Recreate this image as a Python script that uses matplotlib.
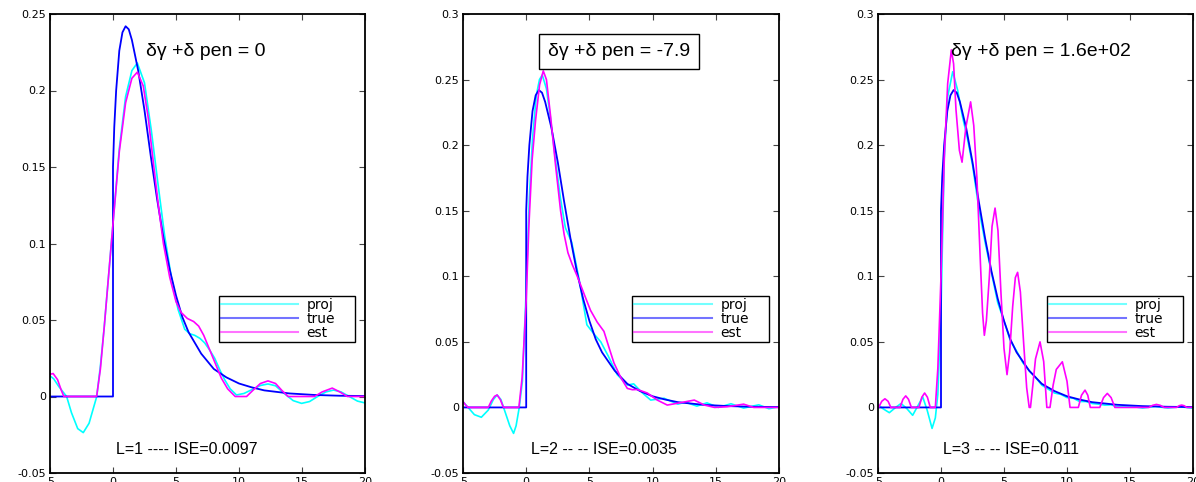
import matplotlib
matplotlib.use('Agg')
import matplotlib.pyplot as plt

# axis ticks (MATLAB style labels)
xtick_vals = [-5, 0, 5, 10, 15, 20]
xtick_labels = ['-5', '0', '5', '10', '15', '20']
ytick_vals_1 = [-0.05, 0, 0.05, 0.1, 0.15, 0.2, 0.25]
ytick_labels_1 = ['-0.05', '0', '0.05', '0.1', '0.15', '0.2', '0.25']
ytick_vals_23 = [-0.05, 0, 0.05, 0.1, 0.15, 0.2, 0.25, 0.3]
ytick_labels_23 = ['-0.05', '0', '0.05', '0.1', '0.15', '0.2', '0.25', '0.3']

# true density, same in every panel
true_x = [-5, 0, 0, 0.1, 0.25, 0.5, 0.75, 1, 1.25, 1.5, 2, 2.5, 3, 3.5, 4, 4.5, 5, 5.5,
          6, 7, 8, 9, 10, 11, 12, 14, 16, 18, 20]
true_y = [0, 0, 0.15, 0.176, 0.2, 0.226, 0.238, 0.242, 0.24, 0.233, 0.213, 0.187, 0.157,
          0.129, 0.104, 0.083, 0.066, 0.052, 0.042, 0.028, 0.018, 0.0125, 0.0085, 0.006,
          0.004, 0.002, 0.001, 0.0005, 0.0003]

# panel 1, L=1
proj1_x = [-5, -4.7, -4.3, -3.68, -3.3, -2.8, -2.36, -1.9, -1.29, -1.0, -0.7, 0, 0.5, 1.0,
           1.5, 1.93, 2.5, 3.04, 3.57, 4.1, 4.63, 5.16, 5.69, 6.1, 6.48, 6.9, 7.28, 7.7,
           8.07, 8.5, 8.86, 9.3, 9.8, 10.4, 11.05, 11.7, 12.3, 12.9, 13.6, 14.3, 14.97,
           15.6, 16.2, 16.9, 17.5, 18.1, 18.75, 19.4, 20]
proj1_y = [0.0135, 0.0115, 0.0065, 0, -0.0105, -0.021, -0.0236, -0.0175, 0, 0.02, 0.045,
           0.113, 0.162, 0.196, 0.213, 0.218, 0.205, 0.174, 0.139, 0.105, 0.078, 0.057,
           0.044, 0.041, 0.040, 0.038, 0.035, 0.030, 0.025, 0.017, 0.011, 0.005, 0.001,
           0.002, 0.0046, 0.0072, 0.0082, 0.007, 0.0019, -0.0027, -0.0045, -0.0033,
           -0.0002, 0.003, 0.0042, 0.003, 0, -0.003, -0.0042]
est1_x = [-5, -4.75, -4.4, -4.1, -3.9, -1.3, -1.0, -0.7, 0, 0.5, 1.0, 1.5, 1.93, 2.4,
          2.8, 3.2, 3.6, 4.0, 4.5, 5.0, 5.4, 5.9, 6.4, 6.8, 7.2, 7.6, 8.1, 8.6, 9.1, 9.7,
          10.6, 11.1, 11.7, 12.3, 12.9, 13.4, 13.9, 16.0, 16.6, 17.4, 18.0, 18.6, 20]
est1_y = [0.0145, 0.015, 0.011, 0.004, 0, 0, 0.018, 0.045, 0.113, 0.16, 0.192, 0.208,
          0.212, 0.203, 0.182, 0.153, 0.125, 0.1, 0.078, 0.062, 0.055, 0.051, 0.049,
          0.046, 0.04, 0.032, 0.022, 0.012, 0.005, 0, 0, 0.004, 0.0085, 0.0102, 0.0085,
          0.004, 0, 0, 0.003, 0.0055, 0.003, 0, 0]

# panel 2, L=2
proj2_x = [-5, -4.6, -4.1, -3.55, -3.0, -2.6, -2.3, -2.0, -1.65, -1.3, -1.0, -0.8, -0.55,
           -0.3, 0, 0.25, 0.5, 0.8, 1.05, 1.27, 1.6, 1.93, 2.3, 2.7, 3.1, 3.6, 4.2, 4.8,
           5.36, 5.9, 6.5, 7.2, 8.0, 8.5, 9.2, 9.85, 10.9, 12.0, 12.6, 13.5, 14.3, 15.2,
           16.2, 17.2, 18.4, 19.2, 20]
proj2_y = [0.0044, 0.0, -0.0055, -0.0075, -0.002, 0.006, 0.0095, 0.006, -0.004, -0.014,
           -0.0198, -0.014, 0, 0.02, 0.09, 0.16, 0.205, 0.238, 0.25, 0.2535, 0.243, 0.22,
           0.19, 0.16, 0.137, 0.126, 0.097, 0.063, 0.056, 0.050, 0.039, 0.025, 0.017,
           0.018, 0.011, 0.0056, 0.007, 0.0025, 0.004, 0.001, 0.0035, 0.0, 0.0028,
           -0.0005, 0.002, -0.001, 0.0005]
est2_x = [-5, -4.8, -4.6, -3.0, -2.75, -2.5, -2.3, -2.05, -1.8, -0.58, -0.32, 0, 0.21,
          0.47, 0.74, 1.06, 1.35, 1.6, 1.93, 2.32, 2.72, 3.0, 3.3, 3.64, 4.04, 4.56, 5.09,
          5.62, 6.15, 6.54, 6.94, 7.47, 8.0, 8.4, 8.79, 9.58, 10.37, 11.16, 12.2, 13.3,
          14.1, 14.9, 15.9, 17.2, 18.0, 20]
est2_y = [0.0044, 0.002, 0, 0, 0.005, 0.0085, 0.0095, 0.006, 0, 0, 0.023, 0.082, 0.138,
          0.189, 0.219, 0.246, 0.2566, 0.25, 0.222, 0.185, 0.15, 0.132, 0.118, 0.109,
          0.1, 0.087, 0.074, 0.065, 0.058, 0.046, 0.034, 0.023, 0.0145, 0.0135, 0.0137,
          0.011, 0.0056, 0.0018, 0.0036, 0.0056, 0.0018, 0, 0.0005, 0.0025, 0, 0]

# panel 3, L=3
proj3_x = [-5, -4.6, -4.1, -3.6, -3.17, -2.7, -2.25, -1.85, -1.45, -1.1, -0.71, -0.45,
           -0.25, 0, 0.26, 0.53, 0.93, 1.32, 1.7, 2.1, 2.5, 3, 3.5, 4, 4.5, 5, 5.5, 6,
           6.5, 7, 7.5, 8, 8.5, 9, 9.5, 10, 10.5, 11, 11.5, 12, 12.5, 13, 13.5, 14, 15,
           16, 17, 18, 19, 20]
proj3_y = [0.002, -0.001, -0.004, 0.0, 0.003, -0.001, -0.006, 0.001, 0.008, -0.002,
           -0.016, -0.008, 0.01, 0.074, 0.19, 0.237, 0.256, 0.242, 0.222, 0.205, 0.185,
           0.152, 0.126, 0.103, 0.08, 0.066, 0.051, 0.043, 0.034, 0.028, 0.023, 0.017,
           0.014, 0.011, 0.01, 0.0075, 0.007, 0.0045, 0.0045, 0.003, 0.0025, 0.0018,
           0.002, 0.0005, 0.001, -0.0005, 0.0008, -0.0005, 0.0005, -0.0007]
est3_x = [-5, -4.95, -4.7, -4.45, -4.2, -3.98, -3.25, -3.02, -2.8, -2.58, -2.35, -1.75,
          -1.52, -1.3, -1.08, -0.85, -0.45, -0.25, 0, 0.26, 0.53, 0.82, 1.0, 1.19, 1.46,
          1.67, 1.98, 2.35, 2.6, 2.85, 3.12, 3.3, 3.44, 3.6, 3.84, 4.05, 4.29, 4.52, 4.76,
          5.0, 5.24, 5.45, 5.69, 5.9, 6.08, 6.3, 6.56, 6.8, 7.0, 7.1, 7.3, 7.5, 7.86,
          8.15, 8.4, 8.65, 8.9, 9.15, 9.63, 10.0, 10.24, 10.9, 11.15, 11.43, 11.65,
          11.85, 12.6, 12.9, 13.2, 13.5, 13.8, 16.5, 16.8, 17.1, 17.4, 17.7, 18.7, 18.9,
          19.1, 19.3, 19.5, 20]
est3_y = [0, 0, 0.0047, 0.0066, 0.0047, 0, 0, 0.0062, 0.0088, 0.0062, 0, 0, 0.0078,
          0.011, 0.0078, 0, 0, 0.03, 0.10, 0.19, 0.247, 0.2726, 0.262, 0.227, 0.196,
          0.187, 0.214, 0.233, 0.215, 0.175, 0.112, 0.072, 0.055, 0.066, 0.10, 0.138,
          0.152, 0.135, 0.087, 0.045, 0.025, 0.042, 0.077, 0.099, 0.103, 0.088, 0.049,
          0.015, 0, 0, 0.018, 0.037, 0.050, 0.035, 0, 0, 0.017, 0.029, 0.0348, 0.02, 0,
          0, 0.0093, 0.0132, 0.0093, 0, 0, 0.0075, 0.0107, 0.0075, 0, 0, 0.0016, 0.0023,
          0.0016, 0, 0, 0.0013, 0.0018, 0.0013, 0, 0]

titles = ['δγ +δ pen = 0', 'δγ +δ pen = -7.9', 'δγ +δ pen = 1.6e+02']
notes = ['L=1 ---- ISE=0.0097', 'L=2 -- -- ISE=0.0035', 'L=3 -- -- ISE=0.011']
legend_labels = ['proj', 'true', 'est']

panels = [
    (proj1_x, proj1_y, est1_x, est1_y, 0.25, ytick_vals_1, ytick_labels_1),
    (proj2_x, proj2_y, est2_x, est2_y, 0.3, ytick_vals_23, ytick_labels_23),
    (proj3_x, proj3_y, est3_x, est3_y, 0.3, ytick_vals_23, ytick_labels_23),
]

# axes rectangles in figure pixels: left, width
ax_left = [50, 463, 878]
ax_width = [315, 316, 315]
title_cx = [0.495, 0.494, 0.517]
note_cx = [0.435, 0.446, 0.422]

txt_font = ['Liberation Sans', 'DejaVu Sans']

fig = plt.figure(figsize=(11.96, 4.82), dpi=100)

for i, (px, py, ex, ey, ytop, yt, ytl) in enumerate(panels):
    ax = fig.add_axes([ax_left[i] / 1196, 9 / 482, ax_width[i] / 1196, 459 / 482])
    ax.plot(px, py, color='#00ffff', lw=1.2, label=legend_labels[0])
    ax.plot(true_x, true_y, color='#0000ff', lw=1.3, label=legend_labels[1])
    ax.plot(ex, ey, color='#ff00ff', lw=1.2, label=legend_labels[2])

    ax.set_xlim(-5, 20)
    ax.set_ylim(-0.05, ytop)
    ax.set_xticks(xtick_vals)
    ax.set_xticklabels(xtick_labels)
    ax.set_yticks(yt)
    ax.set_yticklabels(ytl)
    ax.tick_params(direction='in', length=4, width=0.8, color='#444444',
                   top=True, right=True, labelsize=8, pad=3)
    for sp in ax.spines.values():
        sp.set_linewidth(1.3)

    bbox = None
    if i == 1:
        bbox = dict(boxstyle='square,pad=0.45', fc='white', ec='black', lw=1.0)
    ax.text(title_cx[i], 0.909, titles[i], transform=ax.transAxes, ha='center',
            va='baseline', fontsize=14, family=txt_font, bbox=bbox)
    ax.text(note_cx[i], 0.0414, notes[i], transform=ax.transAxes, ha='center',
            va='baseline', fontsize=11.5, family=txt_font)

    leg = ax.legend(loc='lower left', bbox_to_anchor=(0.535, 0.285, 0.433, 0.1),
                    mode='expand', borderaxespad=0, fontsize=10, handlelength=5.6,
                    handletextpad=0.6, labelspacing=0.0, borderpad=0.15,
                    fancybox=False, framealpha=1)
    leg.get_frame().set_edgecolor('black')
    leg.get_frame().set_linewidth(1.0)
    for h in leg.get_lines():
        h.set_alpha(0.55)
        h.set_linewidth(1.5)

fig.savefig('out.png', dpi=100)
